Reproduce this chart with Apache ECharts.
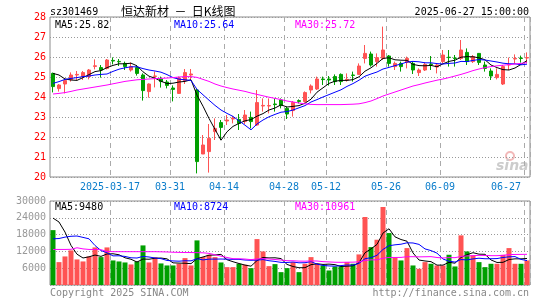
<!DOCTYPE html>
<html>
<head>
<meta charset="utf-8">
<title>恒达新材 日K线图</title>
<script src="https://cdn.jsdelivr.net/npm/echarts/dist/echarts.min.js"></script>
<style>
  html, body { margin: 0; padding: 0; background: #fff; }
  #main { width: 545px; height: 300px; }
</style>
</head>
<body>
<div id="main"></div>
<script>
'use strict';

// trading days shown on the chart
var dates = [
    '2025-03-03', '2025-03-04', '2025-03-05', '2025-03-06', '2025-03-07', '2025-03-10', '2025-03-11', '2025-03-12', '2025-03-13', '2025-03-14',
    '2025-03-17', '2025-03-18', '2025-03-19', '2025-03-20', '2025-03-21', '2025-03-24', '2025-03-25', '2025-03-26', '2025-03-27', '2025-03-28',
    '2025-03-31', '2025-04-01', '2025-04-02', '2025-04-03', '2025-04-07', '2025-04-08', '2025-04-09', '2025-04-10', '2025-04-11', '2025-04-14',
    '2025-04-15', '2025-04-16', '2025-04-17', '2025-04-18', '2025-04-21', '2025-04-22', '2025-04-23', '2025-04-24', '2025-04-25', '2025-04-28',
    '2025-04-29', '2025-04-30', '2025-05-06', '2025-05-07', '2025-05-08', '2025-05-09', '2025-05-12', '2025-05-13', '2025-05-14', '2025-05-15',
    '2025-05-16', '2025-05-19', '2025-05-20', '2025-05-21', '2025-05-22', '2025-05-23', '2025-05-26', '2025-05-27', '2025-05-28', '2025-05-29',
    '2025-05-30', '2025-06-03', '2025-06-04', '2025-06-05', '2025-06-06', '2025-06-09', '2025-06-10', '2025-06-11', '2025-06-12', '2025-06-13',
    '2025-06-16', '2025-06-17', '2025-06-18', '2025-06-19', '2025-06-20', '2025-06-23', '2025-06-24', '2025-06-25', '2025-06-26', '2025-06-27'
];

var opens = [
    25.18, 24.42, 24.65, 24.88, 25.10, 25.02, 25.02, 25.53, 25.47, 25.43,
    25.83, 25.78, 25.68, 25.35, 25.47, 25.10, 24.27, 25.03, 24.90, 24.75,
    24.45, 24.18, 24.82, 25.10, 24.35, 21.15, 21.27, 22.27, 22.72, 22.80,
    22.90, 22.88, 22.77, 22.98, 22.60, 23.55, 23.55, 23.65, 23.85, 23.43,
    23.32, 23.82, 23.77, 24.35, 24.40, 24.90, 24.90, 25.02, 25.13, 24.85,
    25.10, 25.13, 25.93, 26.15, 25.77, 25.93, 26.05, 25.52, 25.68, 25.73,
    25.68, 25.22, 25.35, 25.65, 25.50, 25.77, 25.99, 25.95, 25.93, 26.23,
    25.77, 26.18, 25.60, 25.30, 24.97, 24.65, 25.60, 25.90, 25.95, 25.95
];
var closes = [
    24.52, 24.60, 24.82, 25.10, 25.13, 25.22, 25.35, 25.56, 25.35, 25.85,
    25.80, 25.76, 25.52, 25.52, 25.18, 24.32, 24.65, 25.05, 24.77, 24.58,
    24.38, 24.95, 25.22, 25.15, 20.77, 21.60, 21.93, 22.43, 22.48, 22.85,
    22.95, 22.68, 23.10, 22.77, 23.72, 23.58, 23.57, 23.62, 23.57, 23.15,
    23.73, 23.78, 24.22, 24.55, 24.90, 24.87, 24.85, 24.77, 24.77, 24.88,
    25.08, 25.55, 26.18, 25.60, 25.97, 26.35, 25.68, 25.68, 25.52, 25.93,
    25.35, 25.35, 25.63, 25.62, 25.60, 26.10, 25.97, 25.93, 26.35, 25.77,
    26.02, 25.73, 25.43, 25.05, 25.13, 25.52, 25.63, 25.93, 25.93, 25.97
];
var lows = [
    24.23, 24.27, 24.18, 24.77, 24.85, 24.85, 24.88, 25.38, 24.97, 25.38,
    25.63, 25.55, 25.35, 25.27, 25.07, 23.82, 23.97, 24.48, 24.47, 24.43,
    23.78, 24.15, 24.65, 24.85, 20.18, 21.15, 20.22, 21.85, 21.85, 22.60,
    22.68, 22.35, 22.65, 22.43, 22.55, 23.27, 23.18, 23.27, 23.43, 22.90,
    23.02, 23.68, 23.72, 24.18, 24.35, 24.60, 24.57, 24.60, 24.60, 24.77,
    24.77, 25.10, 25.68, 25.52, 25.52, 25.85, 25.52, 25.35, 25.27, 25.43,
    25.15, 25.05, 25.30, 25.35, 25.18, 25.68, 25.52, 25.52, 25.85, 25.60,
    25.70, 25.60, 25.27, 24.85, 24.88, 24.60, 25.35, 25.68, 25.72, 25.68
];
var highs = [
    25.22, 24.65, 24.93, 25.23, 25.30, 25.30, 25.40, 25.88, 25.60, 25.90,
    25.98, 25.90, 25.77, 25.73, 25.57, 25.18, 24.68, 25.27, 25.02, 24.85,
    24.58, 25.02, 25.40, 25.40, 24.40, 22.10, 22.65, 22.93, 22.85, 23.10,
    23.05, 23.15, 23.35, 23.27, 24.35, 23.93, 23.93, 23.93, 23.93, 23.52,
    23.80, 23.88, 24.28, 24.63, 25.02, 25.02, 25.05, 25.13, 25.18, 25.18,
    25.27, 25.68, 26.60, 26.27, 26.18, 27.52, 26.10, 25.77, 25.77, 26.02,
    25.77, 25.43, 25.73, 26.05, 25.65, 26.35, 26.35, 26.10, 26.85, 26.43,
    26.10, 26.20, 25.77, 25.43, 25.43, 25.60, 25.97, 26.13, 26.07, 26.23
];

// moving averages as they appear on the price panel
var ma5 = [
    25.18, 25.10, 24.90, 24.85, 24.83, 24.97, 25.12, 25.27, 25.32, 25.47,
    25.58, 25.66, 25.66, 25.69, 25.56, 25.26, 25.04, 24.94, 24.79, 24.67,
    24.69, 24.75, 24.78, 24.86, 24.09, 23.54, 22.93, 22.38, 21.84, 22.26,
    22.53, 22.68, 22.81, 22.87, 23.04, 23.17, 23.35, 23.45, 23.61, 23.50,
    23.53, 23.57, 23.69, 23.89, 24.24, 24.46, 24.68, 24.79, 24.83, 24.83,
    24.87, 25.01, 25.29, 25.46, 25.68, 25.93, 25.96, 25.86, 25.84, 25.83,
    25.63, 25.57, 25.56, 25.58, 25.51, 25.66, 25.78, 25.84, 25.99, 26.02,
    26.01, 25.96, 25.86, 25.60, 25.47, 25.37, 25.35, 25.45, 25.63, 25.82
];
var ma10 = [
    24.68, 24.77, 24.88, 24.93, 24.97, 25.02, 25.05, 25.10, 25.13, 25.15,
    25.28, 25.39, 25.46, 25.51, 25.51, 25.42, 25.35, 25.30, 25.24, 25.12,
    24.97, 24.89, 24.86, 24.83, 24.38, 24.11, 23.84, 23.58, 23.35, 23.18,
    23.03, 22.81, 22.59, 22.36, 22.65, 22.85, 23.01, 23.13, 23.24, 23.27,
    23.35, 23.46, 23.57, 23.75, 23.87, 24.00, 24.12, 24.24, 24.36, 24.53,
    24.67, 24.84, 25.04, 25.15, 25.25, 25.40, 25.48, 25.57, 25.65, 25.75,
    25.78, 25.76, 25.71, 25.71, 25.67, 25.65, 25.68, 25.70, 25.78, 25.77,
    25.83, 25.87, 25.85, 25.80, 25.75, 25.69, 25.66, 25.66, 25.61, 25.64
];
var ma30 = [
    24.15, 24.18, 24.22, 24.28, 24.35, 24.40, 24.45, 24.50, 24.55, 24.60,
    24.66, 24.72, 24.78, 24.82, 24.86, 24.88, 24.90, 24.92, 24.93, 24.95,
    24.97, 25.00, 25.02, 25.02, 24.98, 24.88, 24.78, 24.65, 24.55, 24.47,
    24.40, 24.34, 24.28, 24.20, 24.13, 24.06, 23.99, 23.93, 23.87, 23.80,
    23.75, 23.70, 23.66, 23.63, 23.62, 23.62, 23.62, 23.62, 23.62, 23.63,
    23.64, 23.66, 23.72, 23.80, 23.92, 24.05, 24.15, 24.25, 24.35, 24.45,
    24.55, 24.62, 24.70, 24.77, 24.84, 24.90, 24.97, 25.05, 25.13, 25.22,
    25.32, 25.40, 25.47, 25.52, 25.56, 25.59, 25.62, 25.65, 25.68, 25.72
];

// volume panel
var volumes = [
    19600, 8170, 10200, 12350, 9130, 8410, 10200, 13420, 9960, 13420,
    8770, 8410, 8050, 7340, 8410, 14140, 8050, 9840, 7700, 6980,
    6980, 7580, 9600, 6980, 15930, 9960, 10800, 9960, 8050, 6380,
    6380, 7580, 7220, 6020, 16400, 11990, 6740, 7460, 4590, 6020,
    8170, 4590, 7580, 9960, 7580, 6980, 5190, 6620, 6620, 8170,
    7580, 10920, 24280, 13540, 16170, 27860, 18550, 9840, 8770, 13180,
    6980, 5790, 8170, 7580, 6980, 6980, 10800, 6620, 17720, 11990,
    10560, 8170, 6380, 7580, 7580, 10770, 13180, 7580, 7580, 8770
];
var vma5 = [
    23900, 22490, 18900, 14140, 11000, 9650, 10060, 10700, 10220, 11080,
    11150, 10800, 9720, 9200, 8200, 9270, 9200, 9560, 9630, 9340,
    7910, 7820, 7770, 7620, 9410, 10010, 10650, 10730, 10940, 9030,
    8310, 7670, 7120, 6720, 8720, 9840, 9670, 9720, 9440, 7360,
    6600, 6170, 6190, 7260, 7580, 7340, 7460, 7270, 6600, 6720,
    6840, 7980, 11510, 12900, 14500, 18550, 20080, 17190, 16240, 15640,
    11460, 8910, 8580, 8340, 7100, 7100, 8100, 7790, 9820, 10820,
    11540, 11010, 10960, 8940, 8050, 8100, 9100, 9340, 9340, 9480
];
var vma10 = [
    16500, 16600, 17100, 17400, 17500, 17000, 16500, 14100, 12300, 11490,
    10400, 10430, 10210, 9710, 9640, 10210, 10000, 9640, 9410, 8770,
    8590, 8510, 8660, 8630, 9380, 8960, 9240, 9250, 9280, 9220,
    9160, 9160, 8920, 8830, 8880, 9080, 8670, 8420, 8080, 8040,
    8220, 7920, 7960, 8350, 7470, 6970, 6810, 6730, 6930, 7150,
    7090, 7720, 9390, 9750, 10610, 12700, 14030, 14350, 14570, 15070,
    15010, 14500, 12890, 12290, 11370, 9280, 8510, 8190, 9080, 8960,
    9320, 9560, 9380, 9380, 9440, 9820, 10060, 10150, 9140, 8724
];
var vma30 = [
    12700, 12700, 12700, 12750, 13300, 12900, 12700, 12700, 12600, 12000,
    11900, 11900, 11900, 11900, 11900, 11900, 11900, 11900, 11850, 11800,
    11700, 11650, 11600, 11600, 11550, 11500, 11300, 10800, 10300, 9830,
    9390, 9370, 9270, 9060, 9300, 9420, 9300, 9100, 8920, 8680,
    8660, 8530, 8510, 8600, 8570, 8340, 8240, 8130, 8100, 8140,
    8160, 8270, 8760, 8980, 8980, 9580, 9840, 9830, 9860, 10090,
    10110, 10050, 10080, 10130, 9820, 9650, 9780, 9760, 10190, 10390,
    10470, 10590, 10550, 10470, 10470, 10600, 10860, 10900, 10930, 10961
];

// x axis marks
var tickDates = ['2025-03-17', '2025-03-31', '2025-04-14', '2025-04-28', '2025-05-12', '2025-05-26', '2025-06-09', '2025-06-27'];
var tickTexts = ['2025-03-17', '03-31', '04-14', '04-28', '05-12', '05-26', '06-09', '06-27'];

// header / legend texts
var priceLegend = ['MA5:25.82', 'MA10:25.64', 'MA30:25.72'];
var volLegend = ['MA5:9480', 'MA10:8724', 'MA30:10961'];

var upColor = '#ff5353';
var downColor = '#009f00';
var maColors = ['#000000', '#0000ff', '#ff00ff'];
var mono = '"DejaVu Sans Mono", "Liberation Mono", monospace';

function isTick(index, value) {
    return tickDates.indexOf(value) >= 0;
}

var myChart = echarts.init(document.getElementById('main'));

var candleData = opens.map(function(o, i) {
    return [o, closes[i], lows[i], highs[i]];
});
var volData = volumes.map(function(v, i) {
    return {
        value: v,
        itemStyle: { color: closes[i] >= opens[i] ? upColor : downColor }
    };
});

function maLine(name, data, color, xi, yi) {
    return {
        name: name,
        type: 'line',
        xAxisIndex: xi,
        yAxisIndex: yi,
        data: data,
        symbol: 'none',
        silent: true,
        z: 5,
        lineStyle: { color: color, width: 1 }
    };
}

function legendText(text, x, y, color) {
    return {
        type: 'text', x: x, y: y, z: 100,
        style: { text: text, fill: color, font: '10px ' + mono, verticalAlign: 'middle' }
    };
}

var splitX = {
    show: true,
    interval: isTick,
    lineStyle: { color: '#aaaaaa', type: [5, 4], width: 1 }
};
var dotted = { color: '#999999', type: [1, 2], width: 1 };

var option = {
    animation: false,
    backgroundColor: '#ffffff',
    grid: [
        { left: 50, top: 17, width: 480, height: 160, show: true, borderColor: '#8c8c8c', borderWidth: 1, outerBoundsMode: 'none' },
        { left: 50, top: 201, width: 480, height: 84, show: true, borderColor: '#8c8c8c', borderWidth: 1, outerBoundsMode: 'none' }
    ],
    xAxis: [{
        type: 'category',
        gridIndex: 0,
        data: dates,
        boundaryGap: true,
        axisLine: { show: false },
        axisTick: { show: false },
        axisLabel: {
            interval: isTick,
            formatter: function(value) {
                return tickTexts[tickDates.indexOf(value)];
            },
            color: '#0b7dcb',
            fontFamily: mono,
            fontSize: 10,
            margin: 5,
            padding: [0, 6, 0, 0],
            alignMaxLabel: 'right',
            hideOverlap: false
        },
        splitLine: splitX
    }, {
        type: 'category',
        gridIndex: 1,
        data: dates,
        boundaryGap: true,
        axisLine: { show: false },
        axisTick: { show: false },
        axisLabel: { show: false, interval: isTick },
        splitLine: splitX
    }],
    yAxis: [{
        type: 'value',
        gridIndex: 0,
        min: 20,
        max: 28,
        interval: 1,
        axisLine: { show: false },
        axisTick: { show: false },
        axisLabel: { color: '#ff0000', fontFamily: mono, fontSize: 10, margin: 4 },
        splitLine: { show: true, lineStyle: dotted }
    }, {
        type: 'value',
        gridIndex: 1,
        min: 0,
        max: 30000,
        interval: 6000,
        axisLine: { show: false },
        axisTick: { show: false },
        axisLabel: {
            color: '#999999', fontFamily: mono, fontSize: 10, margin: 4,
            formatter: function(v) { return v === 0 ? '' : String(v); }
        },
        splitLine: { show: true, lineStyle: dotted }
    }],
    series: [{
        name: 'K',
        type: 'candlestick',
        xAxisIndex: 0,
        yAxisIndex: 0,
        data: candleData,
        barWidth: 4,
        silent: true,
        itemStyle: {
            color: upColor,
            color0: downColor,
            borderColor: upColor,
            borderColor0: downColor,
            borderWidth: 1
        }
    },
    maLine('MA5', ma5, maColors[0], 0, 0),
    maLine('MA10', ma10, maColors[1], 0, 0),
    maLine('MA30', ma30, maColors[2], 0, 0),
    {
        name: 'VOL',
        type: 'bar',
        xAxisIndex: 1,
        yAxisIndex: 1,
        data: volData,
        barWidth: 5,
        silent: true
    },
    maLine('VMA5', vma5, maColors[0], 1, 1),
    maLine('VMA10', vma10, maColors[1], 1, 1),
    maLine('VMA30', vma30, maColors[2], 1, 1)
    ],
    graphic: {
        elements: [
            legendText('sz301469', 50, 12, '#000000'),
            {
                type: 'text', x: 121, y: 11, z: 100,
                style: { text: '恒达新材  －  日K线图', fill: '#000000', font: '12px "Noto Sans CJK SC", sans-serif', verticalAlign: 'middle' }
            },
            {
                type: 'text', x: 529, y: 12, z: 100,
                style: { text: '2025-06-27 15:00:00', fill: '#000000', font: '10px ' + mono, align: 'right', verticalAlign: 'middle' }
            },
            legendText(priceLegend[0], 55, 25, maColors[0]),
            legendText(priceLegend[1], 174, 25, maColors[1]),
            legendText(priceLegend[2], 295, 25, maColors[2]),
            legendText(volLegend[0], 55, 207, maColors[0]),
            legendText(volLegend[1], 174, 207, maColors[1]),
            legendText(volLegend[2], 295, 207, maColors[2]),
            legendText('Copyright 2025 SINA.COM', 50, 293, '#888888'),
            {
                type: 'text', x: 529, y: 293, z: 100,
                style: { text: 'http://finance.sina.com.cn', fill: '#888888', font: '10px ' + mono, align: 'right', verticalAlign: 'middle' }
            },
            // sina watermark
            {
                type: 'circle', z: -1, silent: true,
                shape: { cx: 510, cy: 156, r: 4 },
                style: { fill: 'none', stroke: '#f2b8b8', lineWidth: 2 }
            },
            {
                type: 'text', x: 496, y: 166, z: -1, silent: true,
                style: { text: 'sina', fill: '#cccccc', font: 'italic bold 14px "DejaVu Sans", sans-serif', verticalAlign: 'middle' }
            }
        ]
    }
};

myChart.setOption(option);
</script>
</body>
</html>
